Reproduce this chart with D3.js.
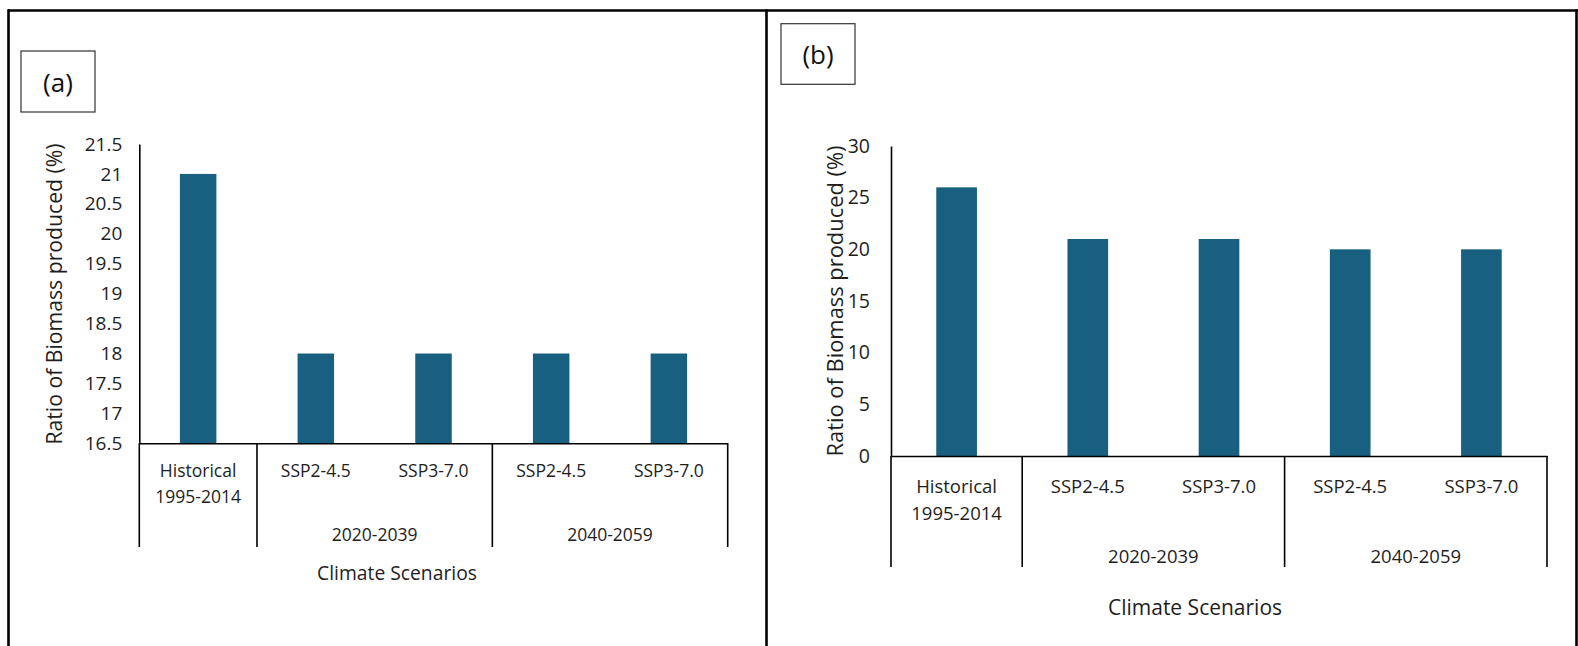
<!DOCTYPE html>
<html>
<head>
<meta charset="UTF-8">
<title>Ratio of Biomass produced</title>
<script src="https://d3js.org/d3.v7.min.js"></script>
<style>
  body { margin: 0; background: #fff; }
  svg { display: block; font-family: "Open Sans", "Noto Sans", sans-serif; }
  .bar { fill: #195f80; }
  .axis path { stroke: #000; stroke-width: 1.6; }
  .axis text { fill: #1e1e1e; }
</style>
</head>
<body>
<svg width="1578" height="646"></svg>
<script>

// data
var scenarioLabels = [["Historical", "1995-2014"], ["SSP2-4.5"], ["SSP3-7.0"], ["SSP2-4.5"], ["SSP3-7.0"]];
var periodOfScenario = ["hist", "2020-2039", "2020-2039", "2040-2059", "2040-2059"];
var periodLabels = ["2020-2039", "2040-2059"];
var valuesA = [21, 18, 18, 18, 18];
var valuesB = [26, 21, 21, 20, 20];
var yTicksA = [16.5, 17, 17.5, 18, 18.5, 19, 19.5, 20, 20.5, 21, 21.5];
var yTicksB = [0, 5, 10, 15, 20, 25, 30];

var svg = d3.select("svg");

// table frame around both panels
var frame = svg.append("g").attr("stroke", "#000").attr("stroke-width", 2.6);
frame.append("line").attr("x1", 8).attr("x2", 1578).attr("y1", 10.5).attr("y2", 10.5);
[8.5, 766.5, 1576.5].forEach(function(x) {
  frame.append("line").attr("x1", x).attr("x2", x).attr("y1", 9.2).attr("y2", 646);
});

var panels = [
  {tag: "(a)", values: valuesA, ticks: yTicksA,
   box: {x: 21, y: 51, w: 74, h: 61},
   left: 139.3, right: 727.7, top: 144, bottom: 443.3,
   tickFont: 17.5, yTickFont: 19, tickPad: 17, yTitle: {x: 53, y: 294, size: 21.2},
   catY: 470, lineGap: 25.5, groupY: 534, tickBottom: 547,
   xTitle: {x: 397, y: 572, size: 19.3}},
  {tag: "(b)", values: valuesB, ticks: yTicksB,
   box: {x: 781, y: 23.7, w: 74, h: 60.6},
   left: 891, right: 1547, top: 146, bottom: 456,
   tickFont: 18.5, yTickFont: 19.5, tickPad: 21, yTitle: {x: 834, y: 301, size: 21.9},
   catY: 485, lineGap: 27, groupY: 555, tickBottom: 567,
   xTitle: {x: 1195, y: 607, size: 21}}
];

panels.forEach(function(p) {
  var g = svg.append("g");

  // panel tag box
  g.append("rect")
      .attr("x", p.box.x).attr("y", p.box.y)
      .attr("width", p.box.w).attr("height", p.box.h)
      .attr("fill", "none").attr("stroke", "#333").attr("stroke-width", 1.2);
  g.append("text")
      .attr("x", p.box.x + p.box.w / 2).attr("y", p.box.y + p.box.h / 2)
      .attr("text-anchor", "middle").attr("dominant-baseline", "central")
      .attr("font-size", 26).attr("fill", "#111")
      .text(p.tag);

  var idx = d3.range(scenarioLabels.length);
  var x = d3.scaleBand().domain(idx).range([p.left, p.right]);
  var y = d3.scaleLinear().domain([p.ticks[0], p.ticks[p.ticks.length - 1]]).range([p.bottom, p.top]);

  // bars
  g.selectAll(".bar")
    .data(p.values)
    .enter().append("rect")
      .attr("class", "bar")
      .attr("x", function(d, i) { return x(i) + x.bandwidth() * 0.345; })
      .attr("width", x.bandwidth() * 0.31)
      .attr("y", function(d) { return y(d); })
      .attr("height", function(d) { return y(p.ticks[0]) - y(d); });

  // y axis
  var yAxis = g.append("g")
      .attr("class", "axis")
      .attr("transform", "translate(" + p.left + ",0)")
      .call(d3.axisLeft(y).tickValues(p.ticks).tickSize(0).tickPadding(p.tickPad).tickFormat(d3.format("")));
  yAxis.attr("font-family", null).attr("font-size", p.yTickFont);

  // x axis line
  var xAxis = g.append("g")
      .attr("class", "axis")
      .attr("transform", "translate(0," + p.bottom + ")")
      .call(d3.axisBottom(x).tickSize(0).tickFormat(""));
  xAxis.selectAll(".tick").remove();

  // separators between period groups
  var edges = idx.filter(function(i) { return i === 0 || periodOfScenario[i] !== periodOfScenario[i - 1]; })
      .map(function(i) { return x(i); });
  edges.push(x.range()[1]);
  g.selectAll(".sep")
    .data(edges)
    .enter().append("line")
      .attr("x1", function(d) { return d; }).attr("x2", function(d) { return d; })
      .attr("y1", p.bottom).attr("y2", p.tickBottom)
      .attr("stroke", "#000").attr("stroke-width", 1.6);

  // scenario labels
  var cat = g.selectAll(".cat")
    .data(scenarioLabels)
    .enter().append("text")
      .attr("text-anchor", "middle")
      .attr("font-size", p.tickFont)
      .attr("fill", "#1e1e1e");
  cat.selectAll("tspan")
    .data(function(d, i) { return d.map(function(s) { return {s: s, i: i}; }); })
    .enter().append("tspan")
      .attr("x", function(d) { return x(d.i) + x.bandwidth() / 2; })
      .attr("y", function(d, j) { return p.catY + j * p.lineGap; })
      .attr("dominant-baseline", "central")
      .text(function(d) { return d.s; });

  // period labels
  periodLabels.forEach(function(lab) {
    var members = idx.filter(function(i) { return periodOfScenario[i] === lab; });
    var x0 = x(members[0]), x1 = x(members[members.length - 1]) + x.bandwidth();
    g.append("text")
        .attr("x", (x0 + x1) / 2).attr("y", p.groupY)
        .attr("text-anchor", "middle").attr("dominant-baseline", "central")
        .attr("font-size", p.tickFont).attr("fill", "#1e1e1e")
        .text(lab);
  });

  // axis titles
  g.append("text")
      .attr("transform", "translate(" + p.yTitle.x + "," + p.yTitle.y + ") rotate(-90)")
      .attr("text-anchor", "middle").attr("dominant-baseline", "central")
      .attr("font-size", p.yTitle.size).attr("fill", "#1e1e1e")
      .text("Ratio of Biomass produced (%)");
  g.append("text")
      .attr("x", p.xTitle.x).attr("y", p.xTitle.y)
      .attr("text-anchor", "middle").attr("dominant-baseline", "central")
      .attr("font-size", p.xTitle.size).attr("fill", "#1e1e1e")
      .text("Climate Scenarios");
});

</script>
</body>
</html>
